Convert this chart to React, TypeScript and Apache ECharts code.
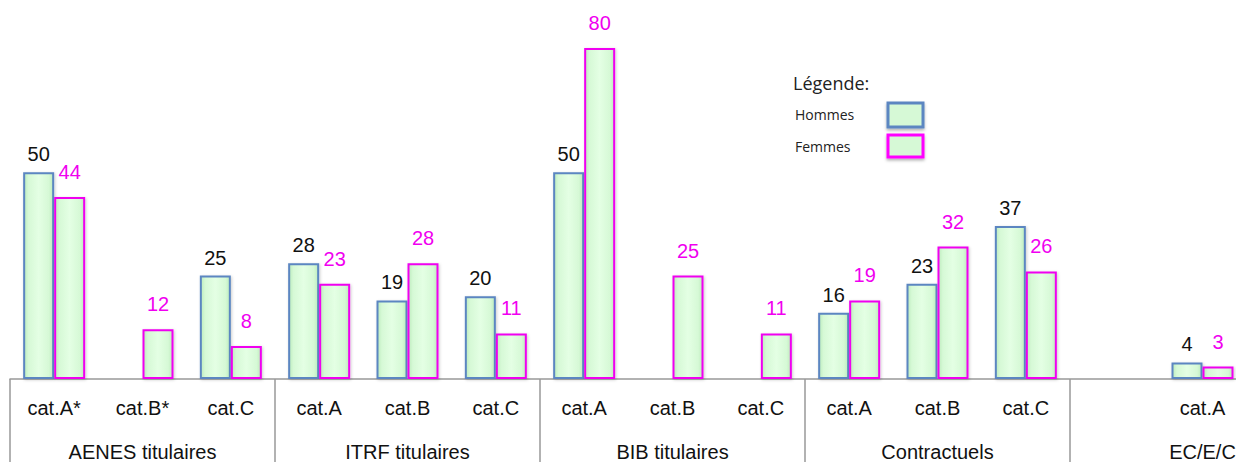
import React, { useEffect, useRef } from "react";
import * as echarts from "echarts";

const categories = ["cat.A*", "cat.B*", "cat.C", "cat.A", "cat.B", "cat.C", "cat.A", "cat.B", "cat.C", "cat.A", "cat.B", "cat.C", "", "cat.A", ""];
const groups = ["AENES titulaires", "ITRF titulaires", "BIB titulaires", "Contractuels", "EC/E/C"];
const hommes = [50, null, 25, 28, 19, 20, 50, null, null, 16, 23, 37, null, 4, null];
const femmes = [44, 12, 8, 23, 28, 11, 80, 25, 11, 19, 32, 26, null, 3, null];

const BLUE = "#5b86c1";
const MAGENTA = "#f000f0";

const fill = {
  type: "linear", x: 0, y: 0, x2: 1, y2: 0,
  colorStops: [
    { offset: 0, color: "#bdecbd" },
    { offset: 0.15, color: "#d6f9d6" },
    { offset: 0.5, color: "#e4ffe4" },
    { offset: 0.85, color: "#d6f9d6" },
    { offset: 1, color: "#bdecbd" },
  ],
};

export default function App() {
  const ref = useRef<HTMLDivElement>(null);
  useEffect(() => {
    const chart = echarts.init(ref.current!, null, { renderer: "svg" });
    const font = "Liberation Sans, Arial, sans-serif";
    chart.setOption({
      animation: false,
      grid: { left: 10, top: 48, width: 1325, height: 331 },
      yAxis: { type: "value", min: 0, max: 80, show: false },
      xAxis: [
        {
          type: "category",
          data: categories,
          position: "bottom",
          axisLine: { show: true, lineStyle: { color: "#999", width: 1.5 } },
          axisTick: { show: false },
          axisLabel: { interval: 0, margin: 19, fontSize: 20, color: "#111", fontFamily: font },
        },
        {
          type: "category",
          data: groups,
          position: "bottom",
          axisLine: { show: false },
          axisTick: { show: true, length: 90, lineStyle: { color: "#999", width: 1.5 } },
          axisLabel: { interval: 0, margin: 63, fontSize: 20, color: "#111", fontFamily: font },
        },
      ],
      series: [
        {
          name: "Hommes",
          type: "bar",
          xAxisIndex: 0,
          data: hommes,
          barWidth: 31,
          barGap: "0%",
          itemStyle: { color: fill, borderColor: BLUE, borderWidth: 2, shadowColor: "rgba(0,0,0,0.2)", shadowBlur: 3, shadowOffsetX: 1, shadowOffsetY: 1 },
          label: { show: true, position: "top", distance: 8, fontSize: 20, color: "#111", fontFamily: font },
        },
        {
          name: "Femmes",
          type: "bar",
          xAxisIndex: 0,
          data: femmes,
          barWidth: 31,
          barGap: "0%",
          itemStyle: { color: fill, borderColor: MAGENTA, borderWidth: 2, shadowColor: "rgba(0,0,0,0.2)", shadowBlur: 3, shadowOffsetX: 1, shadowOffsetY: 1 },
          label: { show: true, position: "top", distance: 15, fontSize: 20, color: MAGENTA, fontFamily: font },
        },
      ],
      graphic: [
        { type: "text", left: 793, top: 74, style: { text: "Légende:", fontSize: 18, fill: "#222", fontFamily: "Open Sans, sans-serif" } },
        { type: "text", left: 795, top: 107, style: { text: "Hommes", fontSize: 14, fill: "#222", fontFamily: "Open Sans, sans-serif" } },
        { type: "text", left: 795, top: 139, style: { text: "Femmes", fontSize: 14, fill: "#222", fontFamily: "Open Sans, sans-serif" } },
        { type: "rect", shape: { x: 888, y: 103, width: 35, height: 24 }, style: { fill: "#d6f9d6", stroke: BLUE, lineWidth: 3, shadowColor: "rgba(0,0,0,0.3)", shadowBlur: 3, shadowOffsetY: 2 } },
        { type: "rect", shape: { x: 888, y: 135, width: 35, height: 22 }, style: { fill: "#d6f9d6", stroke: "#ff00ff", lineWidth: 3, shadowColor: "rgba(0,0,0,0.3)", shadowBlur: 3, shadowOffsetY: 2 } },
      ],
    });
    return () => chart.dispose();
  }, []);
  return (
    <div style={{ position: "absolute", left: 0, top: 0, width: 1236, height: 462, overflow: "hidden" }}>
      <div ref={ref} style={{ width: 1345, height: 462 }} />
    </div>
  );
}
